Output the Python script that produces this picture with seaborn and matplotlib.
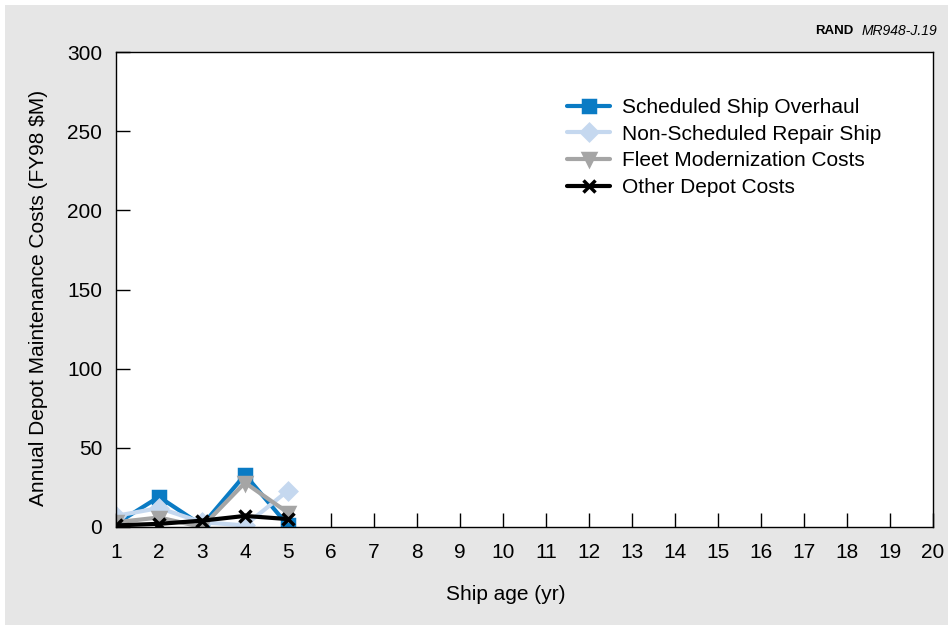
import pandas as pd
import numpy as np
import seaborn as sns
import matplotlib.pyplot as plt
from matplotlib.patches import Rectangle

ages = [1, 2, 3, 4, 5]
scheduled = [2, 19, 1, 33, 1]
non_scheduled = [7, 12, 3, 1, 23]
fleet_mod = [3, 6, 0, 28, 9]
other_depot = [1, 2, 4, 7, 5]

series = ['Scheduled Ship Overhaul', 'Non-Scheduled Repair Ship',
          'Fleet Modernization Costs', 'Other Depot Costs']
values = [scheduled, non_scheduled, fleet_mod, other_depot]
colors = ['#0a7bc4', '#c5d8ef', '#a5a5a5', '#000000']
markers = ['s', 'D', 'v', 'x']

sns.set_style('white')
plt.rcParams['font.family'] = ['Liberation Sans', 'DejaVu Sans']
plt.rcParams['text.color'] = 'black'
plt.rcParams['axes.labelcolor'] = 'black'
plt.rcParams['xtick.color'] = 'black'
plt.rcParams['ytick.color'] = 'black'

fig = plt.figure(figsize=(9.53, 6.31), dpi=100, facecolor='white')
fig.patches.append(Rectangle((5 / 953, 6 / 631), 943 / 953, 620 / 631,
                             transform=fig.transFigure, facecolor='#e6e6e6',
                             edgecolor='none', zorder=-1))
ax = fig.add_axes([116 / 953, 1 - 527 / 631, 817 / 953, 475 / 631])

# draw each series on its own so filled and line markers can mix
for s, v, c, m in zip(series, values, colors, markers):
    sns.lineplot(x=ages, y=v, color=c, marker=m, label=s, linewidth=3,
                 markersize=8, markeredgewidth=2.5, markeredgecolor=c, ax=ax)

ax.set_xlim(1, 20)
ax.set_ylim(0, 300)
ax.set_xticks(range(1, 21))
ax.set_yticks(range(0, 301, 50))
ax.tick_params(axis='both', direction='in', length=10, width=1, labelsize=15,
               bottom=True, left=True)
ax.tick_params(axis='x', pad=11.5)
ax.tick_params(axis='y', pad=10)
for sp in ax.spines.values():
    sp.set_color('black')
    sp.set_linewidth(1)
ax.set_xlabel('Ship age (yr)', fontsize=15)
ax.set_ylabel('Annual Depot Maintenance Costs (FY98 $M)', fontsize=15)
ax.xaxis.set_label_coords(0.477, -0.122)
ax.yaxis.set_label_coords(-0.083, 0.482)

leg = ax.legend(loc='upper left', bbox_to_anchor=(0.529, 0.943), frameon=False,
                fontsize=15, handlelength=2.07, labelspacing=0.37, handletextpad=0.58)

fig.text(0.895, 0.951, 'RAND', fontsize=9.5, fontweight='bold', ha='right', va='center')
fig.text(0.904, 0.951, 'MR948-J.19', fontsize=10, style='italic', ha='left', va='center')

fig.savefig('out.png', dpi=100, facecolor=fig.get_facecolor())
